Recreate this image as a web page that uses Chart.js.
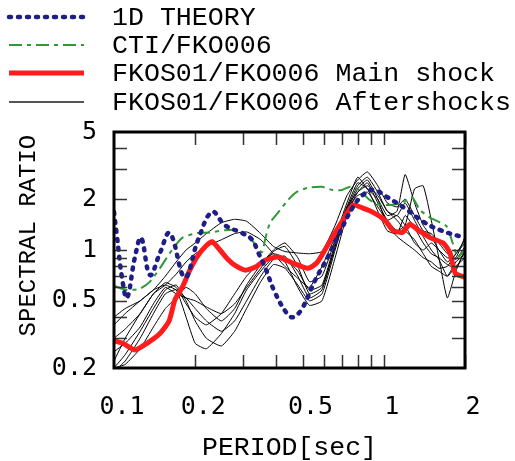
<!DOCTYPE html>
<html>
<head>
<meta charset="utf-8">
<title>Spectral ratio</title>
<script src="https://cdn.jsdelivr.net/npm/chart.js@4.4.1/dist/chart.umd.min.js"></script>
<style>
    html, body { margin: 0; padding: 0; background: #fff; }
    canvas { display: block; }
</style>
</head>
<body>
<canvas id="ratio-chart" width="515" height="461"></canvas>
<script>
// Axis tick labels and tick marks
const periodTicks = [0.1, 0.2, 0.5, 1, 2];
const ratioTicks = [0.2, 0.5, 1, 2, 5];
const periodMarks = [0.2, 0.3, 0.4, 0.5, 0.6, 0.7, 0.8, 0.9, 1, 2];
const ratioMarks = [0.3, 0.4, 0.5, 0.6, 0.7, 0.8, 0.9, 1, 2, 3, 4];

// 1D theory
const theoryPeriod = [0.1, 0.1026, 0.107, 0.1117, 0.1196, 0.126, 0.136, 0.148, 0.161, 0.183, 0.205, 0.231,
    0.258, 0.298, 0.325, 0.342, 0.363, 0.395, 0.438, 0.461, 0.498, 0.556, 0.621, 0.689, 0.769, 0.837,
    0.912, 1.028, 1.22, 1.40, 1.62, 2.0];
const theoryRatio = [1.68, 1.2, 0.69, 0.52, 0.91, 1.18, 0.71, 0.96, 1.26, 0.69, 1.15, 1.68,
    1.4, 1.26, 1.15, 0.97, 0.79, 0.56, 0.42, 0.40, 0.45, 0.66, 0.91, 1.28, 1.8, 2.12,
    2.27, 2.06, 1.73, 1.47, 1.31, 1.18];

// CTI/FKO006
const ctiPeriod = [0.1009, 0.1117, 0.1248, 0.136, 0.148, 0.164, 0.179, 0.203, 0.227, 0.258, 0.288, 0.313,
    0.339, 0.354, 0.363, 0.379, 0.405, 0.442, 0.476, 0.524, 0.590, 0.643, 0.701, 0.750, 0.808, 0.886,
    0.970, 1.055, 1.17, 1.27, 1.36, 1.49, 1.71, 1.80, 1.88, 2.0];
const ctiRatio = [0.61, 0.58, 0.59, 0.65, 0.78, 1.0, 1.18, 1.26, 1.27, 1.31, 1.31, 1.23,
    1.04, 0.97, 1.15, 1.45, 1.66, 1.98, 2.21, 2.34, 2.37, 2.27, 2.27, 2.37, 2.27, 1.98,
    1.85, 1.85, 1.9, 2.06, 1.73, 1.55, 1.38, 1.10, 0.91, 1.0];

// FKOS01/FKO006 main shock
const mainPeriod = [0.1, 0.108, 0.1196, 0.1325, 0.148, 0.160, 0.1684, 0.179, 0.191, 0.205, 0.221, 0.231,
    0.247, 0.264, 0.281, 0.306, 0.333, 0.363, 0.405, 0.457, 0.524, 0.565, 0.605, 0.659, 0.705, 0.769,
    0.837, 0.912, 1.01, 1.08, 1.17, 1.25, 1.34, 1.49, 1.66, 1.76, 1.84, 2.0];
const mainRatio = [0.29, 0.28, 0.256, 0.28, 0.32, 0.38, 0.51, 0.60, 0.76, 0.93, 1.07, 1.12,
    1.0, 0.88, 0.81, 0.76, 0.79, 0.87, 0.91, 0.84, 0.78, 0.84, 1.0, 1.26, 1.5, 1.85,
    1.77, 1.67, 1.50, 1.31, 1.27, 1.42, 1.31, 1.18, 1.10, 0.96, 0.73, 0.69];

// FKOS01/FKO006 aftershocks (one list per event, shared periods)
const afterPeriod = [0.1, 0.11, 0.125, 0.14, 0.155, 0.17, 0.185, 0.2, 0.22, 0.25, 0.28, 0.31, 0.35,
    0.39, 0.43, 0.48, 0.53, 0.59, 0.66, 0.73, 0.8, 0.87, 0.95, 1.03, 1.12, 1.2, 1.3, 1.4, 1.5,
    1.6, 1.72, 1.85, 2.0];
const aftershockRatios = [
    [0.36, 0.42, 0.5, 0.58, 0.7, 0.85, 1.0, 1.1, 1.25, 1.45, 1.52, 1.48, 1.25,
     1.05, 0.98, 0.96, 0.95, 0.98, 1.4, 2.1, 2.6, 2.9, 2.4, 1.9, 1.8, 2.0, 1.6, 1.3, 1.25,
     1.1, 0.95, 0.88, 1.05],
    [0.3, 0.34, 0.42, 0.55, 0.62, 0.72, 0.85, 0.95, 1.05, 1.15, 1.25, 1.28, 1.15,
     0.95, 0.8, 0.68, 0.6, 0.8, 1.2, 1.9, 2.7, 2.3, 2.0, 1.6, 1.7, 2.8, 1.9, 1.4, 1.2,
     1.0, 0.85, 0.95, 1.15],
    [0.22, 0.3, 0.42, 0.55, 0.64, 0.6, 0.48, 0.4, 0.36, 0.42, 0.55, 0.7, 0.85,
     0.95, 0.9, 0.75, 0.58, 0.62, 1.1, 1.8, 2.2, 2.5, 1.9, 1.5, 1.3, 1.4, 2.3, 2.4, 1.5,
     0.9, 0.52, 0.75, 1.0],
    [0.2, 0.24, 0.33, 0.45, 0.58, 0.62, 0.5, 0.38, 0.3, 0.27, 0.33, 0.45, 0.65,
     0.82, 0.78, 0.62, 0.5, 0.55, 1.0, 1.7, 2.3, 2.6, 2.0, 1.4, 1.2, 1.1, 1.0, 0.9, 0.85,
     0.78, 0.8, 0.95, 1.1],
    [0.19, 0.22, 0.3, 0.42, 0.55, 0.58, 0.4, 0.28, 0.26, 0.32, 0.42, 0.58, 0.75,
     0.9, 0.85, 0.6, 0.47, 0.5, 0.9, 1.6, 2.2, 2.4, 2.1, 1.7, 1.5, 1.3, 1.15, 0.95, 0.8,
     0.75, 0.7, 0.85, 0.95],
    [0.25, 0.28, 0.35, 0.48, 0.6, 0.55, 0.52, 0.5, 0.46, 0.42, 0.48, 0.6, 0.78,
     0.98, 1.05, 0.8, 0.55, 0.6, 1.05, 1.75, 2.1, 2.2, 1.8, 1.5, 1.6, 1.4, 1.1, 1.0, 1.1,
     1.0, 0.9, 0.9, 1.2],
    [0.4, 0.45, 0.5, 0.58, 0.62, 0.58, 0.52, 0.45, 0.38, 0.33, 0.38, 0.5, 0.7,
     0.88, 0.92, 0.7, 0.52, 0.58, 1.05, 1.75, 2.4, 2.7, 2.2, 1.7, 1.6, 1.9, 1.5, 1.2, 1.0,
     0.88, 0.7, 0.8, 0.9],
    [0.2, 0.21, 0.26, 0.35, 0.45, 0.52, 0.6, 0.55, 0.45, 0.38, 0.45, 0.62, 0.82,
     1.0, 1.1, 0.9, 0.65, 0.7, 1.15, 1.8, 2.5, 2.3, 1.7, 1.3, 1.25, 1.6, 1.35, 1.1, 0.95,
     0.9, 0.82, 0.78, 1.0]
];

const monoFont = "'Liberation Mono', 'DejaVu Sans Mono', monospace";
const tickFont = "'DejaVu Sans Mono', 'Liberation Mono', monospace";

function toPoints(periods, ratios) {
    return periods.map((p, i) => ({ x: p, y: ratios[i] }));
}

// inward tick marks on all four sides plus a heavy frame
const frameAndTicks = {
    id: 'frameAndTicks',
    afterDatasetsDraw(chart) {
        const { ctx, chartArea: a, scales: { x, y } } = chart;
        const len = 13;
        ctx.save();
        ctx.strokeStyle = '#333';
        ctx.lineWidth = 1.5;
        ctx.beginPath();
        periodMarks.forEach(v => {
            const px = Math.round(x.getPixelForValue(v)) + 0.5;
            ctx.moveTo(px, a.bottom); ctx.lineTo(px, a.bottom - len);
            ctx.moveTo(px, a.top); ctx.lineTo(px, a.top + len);
        });
        ratioMarks.forEach(v => {
            const py = Math.round(y.getPixelForValue(v)) + 0.5;
            ctx.moveTo(a.left, py); ctx.lineTo(a.left + len, py);
            ctx.moveTo(a.right, py); ctx.lineTo(a.right - len, py);
        });
        ctx.stroke();
        ctx.strokeStyle = '#000';
        ctx.lineWidth = 3;
        ctx.strokeRect(a.left, a.top, a.right - a.left, a.bottom - a.top);
        ctx.restore();
    }
};

// legend stacked above the plot, line sample then label
const stackedLegend = {
    id: 'stackedLegend',
    afterDraw(chart) {
        const ctx = chart.ctx;
        const rowsY = [17, 45, 73, 102];
        const entries = [0, 1, 2, 3];
        ctx.save();
        ctx.font = '26.6px ' + monoFont;
        ctx.textBaseline = 'middle';
        ctx.fillStyle = '#000';
        entries.forEach((di, r) => {
            const ds = chart.data.datasets[di];
            ctx.beginPath();
            ctx.setLineDash(ds.borderDash || []);
            ctx.lineCap = ds.borderCapStyle || 'butt';
            ctx.strokeStyle = di === 3 ? '#555' : ds.borderColor;
            ctx.lineWidth = di === 3 ? 1.8 : ds.borderWidth;
            ctx.moveTo(9, rowsY[r]);
            ctx.lineTo(84, rowsY[r]);
            ctx.stroke();
            ctx.setLineDash([]);
            ctx.fillText(ds.label, 112, rowsY[r] + 1);
        });
        ctx.restore();
    }
};

document.addEventListener('DOMContentLoaded', function() {
    const datasets = [{
        label: '1D THEORY',
        data: toPoints(theoryPeriod, theoryRatio),
        borderColor: '#1e1e86',
        borderWidth: 4.5,
        borderDash: [2, 7],
        borderCapStyle: 'round',
        tension: 0.4,
        order: 0
    }, {
        label: 'CTI/FKO006',
        data: toPoints(ctiPeriod, ctiRatio),
        borderColor: '#2e9a36',
        borderWidth: 2,
        borderDash: [13, 5, 4, 5],
        tension: 0.2,
        order: 2
    }, {
        label: 'FKOS01/FKO006 Main shock',
        data: toPoints(mainPeriod, mainRatio),
        borderColor: '#ff1c1c',
        borderWidth: 5,
        tension: 0.2,
        order: 1
    }];
    aftershockRatios.forEach((r, i) => {
        datasets.push({
            label: i === 0 ? 'FKOS01/FKO006 Aftershocks' : '',
            data: toPoints(afterPeriod, r),
            borderColor: '#000',
            borderWidth: 1,
            tension: 0.15,
            order: 3
        });
    });

    const ctx = document.getElementById('ratio-chart').getContext('2d');
    new Chart(ctx, {
        type: 'line',
        data: { datasets: datasets },
        plugins: [frameAndTicks, stackedLegend],
        options: {
            responsive: false,
            animation: false,
            devicePixelRatio: 1,
            layout: { padding: { top: 132, right: 50, bottom: 0, left: 0 } },
            elements: { point: { radius: 0 } },
            plugins: {
                legend: { display: false },
                tooltip: { enabled: false }
            },
            scales: {
                x: {
                    type: 'logarithmic',
                    min: 0.1,
                    max: 2,
                    grid: { display: false },
                    border: { display: false },
                    afterBuildTicks: s => { s.ticks = periodTicks.map(v => ({ value: v })); },
                    afterFit: s => { s.height = 93; },
                    ticks: {
                        autoSkip: false,
                        maxRotation: 0,
                        color: '#000',
                        padding: 16,
                        labelOffset: 8,
                        font: { family: tickFont, size: 25 },
                        callback: v => String(v)
                    },
                    title: {
                        display: true,
                        text: 'PERIOD[sec]',
                        color: '#000',
                        padding: { top: 0, bottom: 0 },
                        font: { family: monoFont, size: 26.5, lineHeight: 1 }
                    }
                },
                y: {
                    type: 'logarithmic',
                    min: 0.2,
                    max: 5,
                    grid: { display: false },
                    border: { display: false },
                    afterBuildTicks: s => { s.ticks = ratioTicks.map(v => ({ value: v })); },
                    afterFit: s => { s.width = 114; },
                    ticks: {
                        autoSkip: false,
                        color: '#000',
                        padding: 9,
                        font: { family: tickFont, size: 25 },
                        callback: v => String(v)
                    },
                    title: {
                        display: true,
                        text: '  SPECTRAL RATIO',
                        color: '#000',
                        padding: { top: 14, bottom: 0 },
                        font: { family: monoFont, size: 24 }
                    }
                }
            }
        }
    });
});
</script>
</body>
</html>
